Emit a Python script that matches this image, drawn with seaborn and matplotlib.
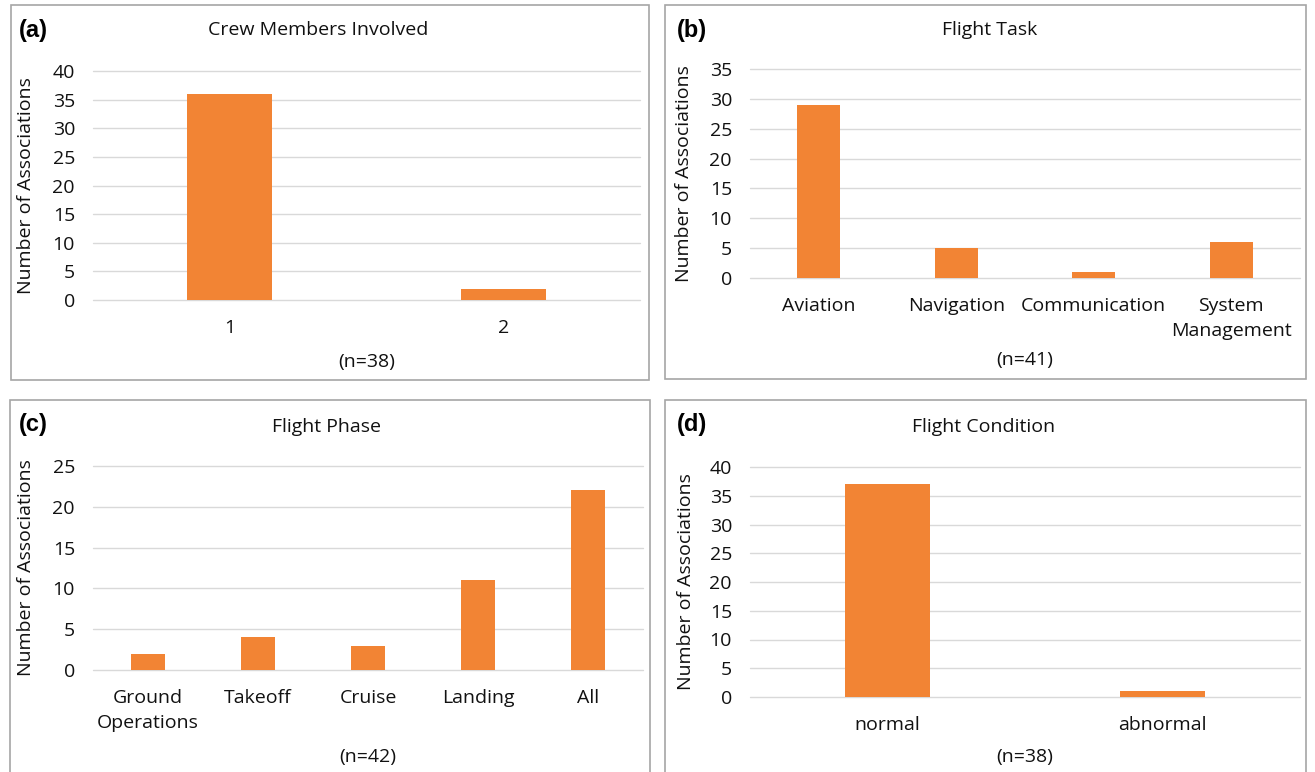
import matplotlib
matplotlib.use("Agg")
import matplotlib.pyplot as plt
import seaborn as sns
from matplotlib.patches import Rectangle

# Category labels and counts for each panel
crew_labels = ["1", "2"]
crew_counts = [36, 2]

task_labels = ["Aviation", "Navigation", "Communication", "System\nManagement"]
task_counts = [29, 5, 1, 6]

phase_labels = ["Ground\nOperations", "Takeoff", "Cruise", "Landing", "All"]
phase_counts = [2, 4, 3, 11, 22]

condition_labels = ["normal", "abnormal"]
condition_counts = [37, 1]

sns.set_style("white")
plt.rcParams["font.family"] = ["Open Sans", "DejaVu Sans"]

BAR = "#F28434"
GRID = "#D9D9D9"
BORDER = "#A6A6A6"
TXT = "#111111"
FS = 14

W, H = 1315, 772
fig = plt.figure(figsize=(W / 100, H / 100), dpi=100)


def fx(x):
    return x / W


def fy(y):
    return 1 - y / H


panels = [
    dict(tag="(a)", title="Crew Members Involved", labels=crew_labels, counts=crew_counts,
         n="(n=38)", ymax=40, box=(11, 5, 649, 380), plot=(93, 71, 640, 300),
         title_xy=(318, 30), n_y=362, ylab_x=26, tag_xy=(19, 30)),
    dict(tag="(b)", title="Flight Task", labels=task_labels, counts=task_counts,
         n="(n=41)", ymax=35, box=(665, 5, 1306, 379), plot=(750, 69, 1300, 278),
         title_xy=(990, 30), n_y=360, ylab_x=684, tag_xy=(677, 30)),
    dict(tag="(c)", title="Flight Phase", labels=phase_labels, counts=phase_counts,
         n="(n=42)", ymax=25, box=(10, 400, 650, 800), plot=(93, 466, 643, 670),
         title_xy=(327, 427), n_y=757, ylab_x=26, tag_xy=(19, 425)),
    dict(tag="(d)", title="Flight Condition", labels=condition_labels, counts=condition_counts,
         n="(n=38)", ymax=40, box=(665, 400, 1306, 800), plot=(750, 467, 1300, 697),
         title_xy=(984, 427), n_y=757, ylab_x=686, tag_xy=(677, 425)),
]

for p in panels:
    bx0, by0, bx1, by1 = p["box"]
    fig.patches.append(Rectangle((fx(bx0), fy(by1)), (bx1 - bx0) / W, (by1 - by0) / H,
                                 transform=fig.transFigure, fill=False,
                                 edgecolor=BORDER, linewidth=1.2))

    left, top, right, bottom = p["plot"]
    ax = fig.add_axes([fx(left), fy(bottom), (right - left) / W, (bottom - top) / H])
    sns.barplot(x=p["labels"], y=p["counts"], ax=ax, color=BAR, saturation=1,
                width=0.31, edgecolor="none", zorder=2)

    ticks = list(range(0, p["ymax"] + 1, 5))
    ax.set_ylim(0, p["ymax"])
    ax.set_yticks(ticks)
    for t in ticks:
        ax.axhline(t, color=GRID, linewidth=1.0, zorder=1, clip_on=False)
    for s in ax.spines.values():
        s.set_visible(False)
    ax.tick_params(axis="y", length=0, pad=13, labelsize=FS, labelcolor=TXT)
    ax.tick_params(axis="x", length=0, pad=14, labelsize=FS, labelcolor=TXT)
    for lbl in ax.get_xticklabels():
        lbl.set_linespacing(1.5)
    ax.set_xlabel("")
    ax.set_ylabel("")
    ax.patch.set_alpha(0)

    fig.text(fx(p["title_xy"][0]), fy(p["title_xy"][1]), p["title"], ha="center",
             va="center", fontsize=FS, color=TXT)
    fig.text(fx((left + right) / 2), fy(p["n_y"]), p["n"], ha="center", va="center",
             fontsize=FS, color=TXT)
    fig.text(fx(p["ylab_x"]), fy((top + bottom) / 2), "Number of Associations",
             rotation=90, ha="center", va="center", fontsize=FS, color=TXT)
    fig.text(fx(p["tag_xy"][0]), fy(p["tag_xy"][1]), p["tag"], ha="left", va="center",
             fontsize=17, fontweight="bold", color="black",
             family=["Liberation Sans", "DejaVu Sans"])

fig.savefig("out.png", dpi=100, facecolor="white")
